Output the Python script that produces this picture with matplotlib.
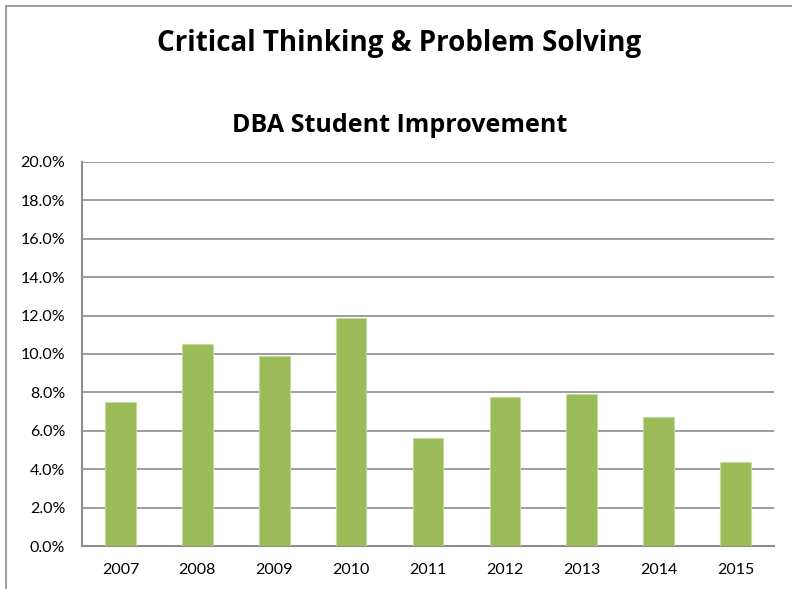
import matplotlib
matplotlib.use("Agg")
import matplotlib.pyplot as plt
from matplotlib.lines import Line2D
from matplotlib.ticker import FuncFormatter

years = ["2007", "2008", "2009", "2010", "2011", "2012", "2013", "2014", "2015"]
improvement = [7.5, 10.5, 9.9, 11.9, 5.6, 7.75, 7.9, 6.7, 4.4]
yticks = [0, 2, 4, 6, 8, 10, 12, 14, 16, 18, 20]

plt.rcParams['font.family'] = ['Lato', 'DejaVu Sans']

fig = plt.figure(figsize=(7.92, 5.89), dpi=100)
W, H = 792, 589
ax = fig.add_axes([82 / W, 1 - 546 / H, (774 - 82) / W, (546 - 162) / H])

ax.bar(range(len(years)), improvement, width=0.4, color="#9BBB59",
       edgecolor="#C4D9A0", linewidth=0.8, zorder=3)

ax.set_xlim(-0.5, len(years) - 0.5)
ax.set_ylim(0, 20)
ax.set_yticks(yticks)
ax.yaxis.set_major_formatter(FuncFormatter(lambda v, p: f"{v:.1f}%"))
ax.set_xticks(range(len(years)))
ax.set_xticklabels(years)
ax.grid(axis="y", color="#8C8C8C", linewidth=1.2, zorder=0)
ax.tick_params(axis="both", length=0, labelsize=11.5, colors="black")
ax.tick_params(axis="x", pad=12)
ax.tick_params(axis="y", pad=12)
for s in ["top", "right"]:
    ax.spines[s].set_visible(False)
for s in ["left", "bottom"]:
    ax.spines[s].set_color("#8C8C8C")
    ax.spines[s].set_linewidth(1.5)

fig.text(399 / W, 1 - 44 / H, "Critical Thinking & Problem Solving",
         ha="center", va="center", fontsize=20, fontweight="bold",
         family=["Open Sans", "DejaVu Sans"])
fig.text(400 / W, 1 - 125.5 / H, "DBA Student Improvement",
         ha="center", va="center", fontsize=18, fontweight="bold",
         family=["Open Sans", "DejaVu Sans"])

# chart area border (left and top edges visible)
fig.add_artist(Line2D([6 / W, 6 / W], [0, 1 - 6 / H], color="#8C8C8C", linewidth=1.2))
fig.add_artist(Line2D([6 / W, 1], [1 - 6 / H, 1 - 6 / H], color="#8C8C8C", linewidth=1.2))

fig.savefig("out.png", dpi=100)
